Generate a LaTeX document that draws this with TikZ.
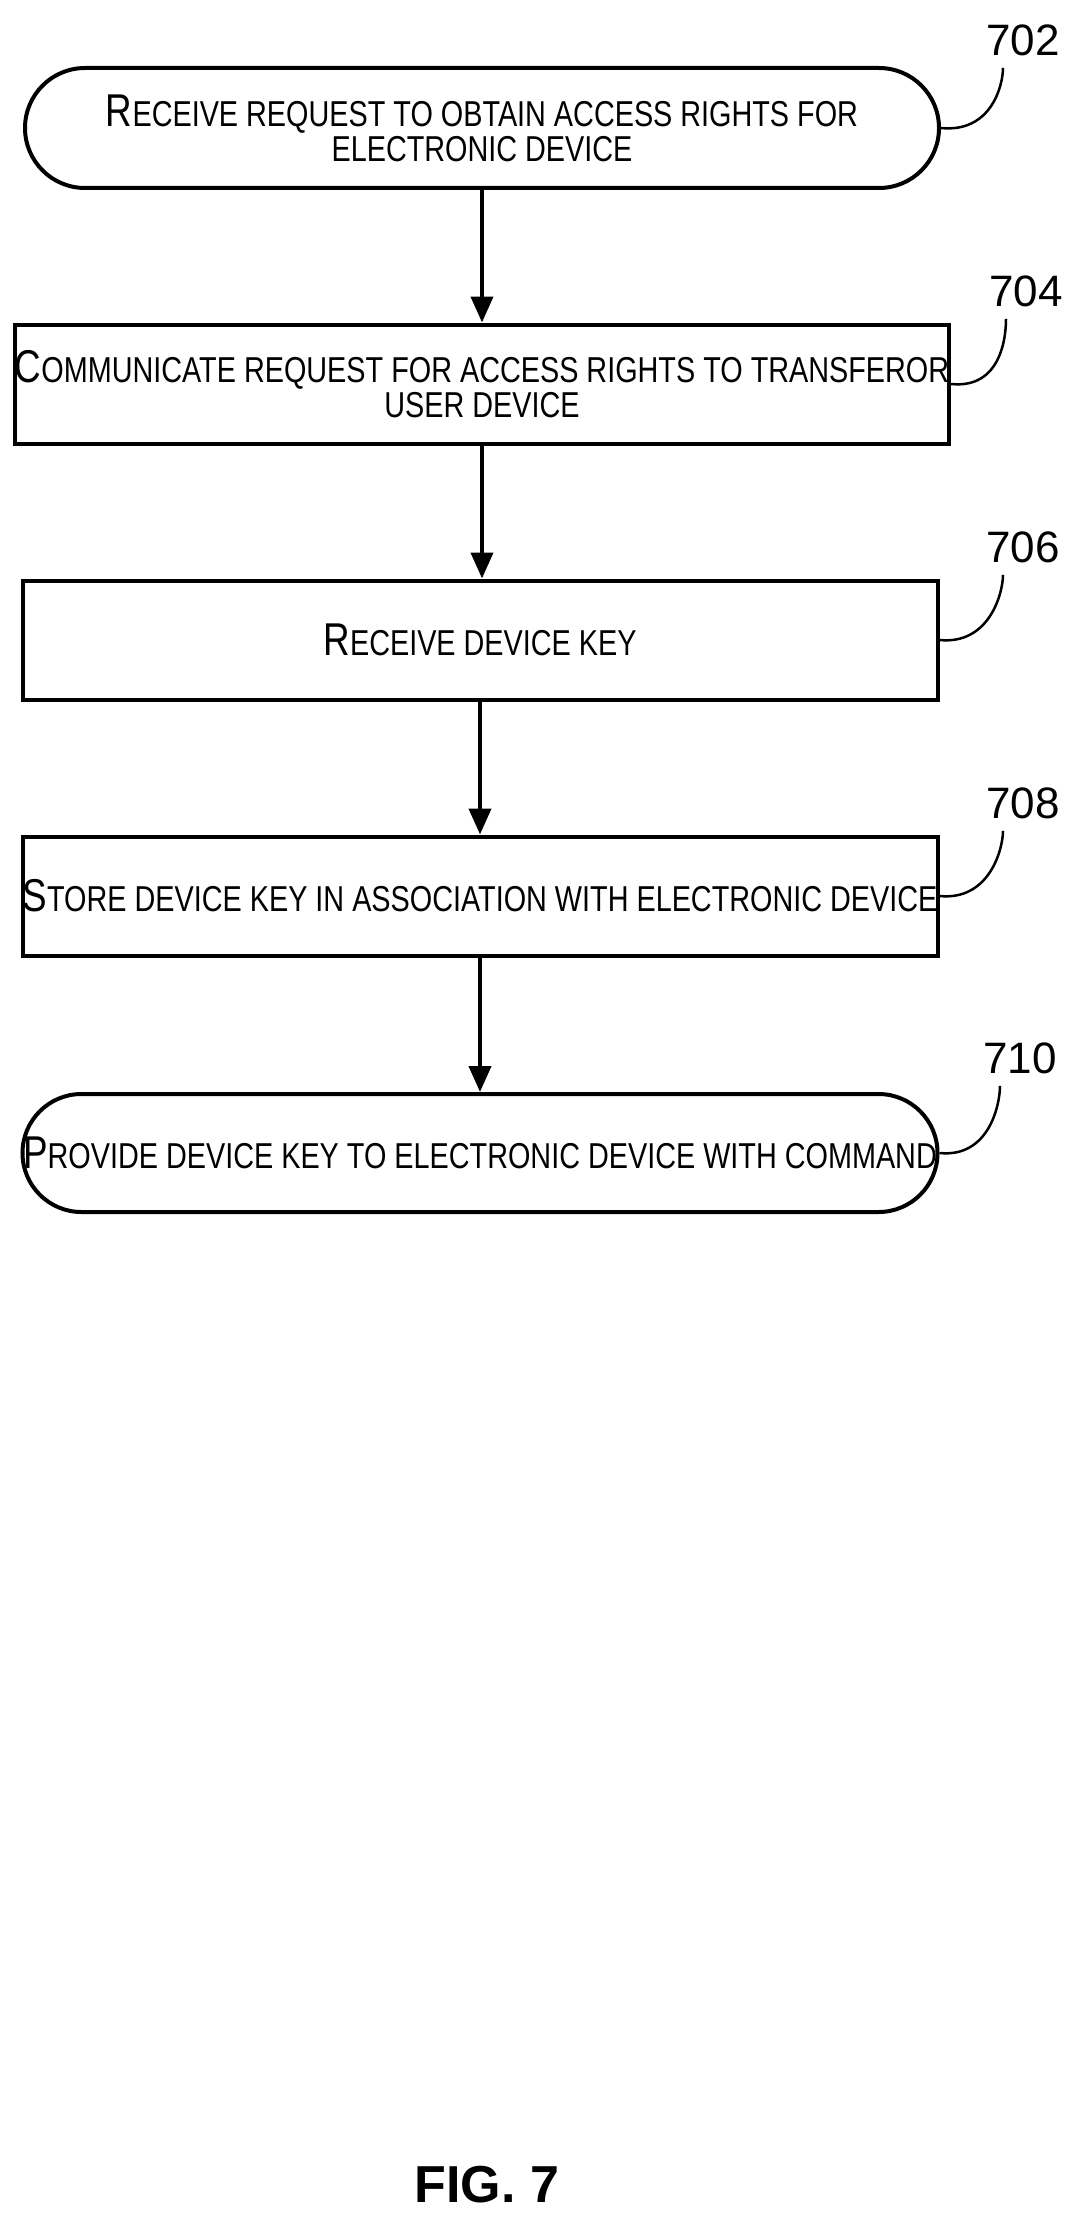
\documentclass[tikz,border=0pt]{standalone}
\usepackage{fontspec}
\setmainfont{Liberation Sans}
\newfontfamily\cond[FakeStretch=0.8]{Liberation Sans}
\usetikzlibrary{arrows.meta}
\newcommand{\Sc}[2]{{\fontsize{46}{50}\selectfont #1}{\fontsize{36}{50}\selectfont #2}}
\begin{document}
\begin{tikzpicture}[x=1pt,y=-1pt,
  box/.style={draw,line width=4pt,align=center,font=\cond,inner sep=0pt},
  lab/.style={font=\fontsize{44}{50}\selectfont,inner sep=0pt},
  arr/.style={line width=4pt,-{Triangle[length=26pt,width=22pt]}},
  call/.style={line width=2.5pt}]
\useasboundingbox (0,0) rectangle (1091,2234);
\node[box,rounded corners=60pt,minimum width=914pt,minimum height=120pt] (b1) at (482,128)
 {\Sc{R}{ECEIVE REQUEST TO OBTAIN ACCESS RIGHTS FOR}\\[2pt]\Sc{}{ELECTRONIC DEVICE}};
\node[box,minimum width=914pt,minimum height=119pt] (b2) at (482,384)
 {\Sc{C}{OMMUNICATE REQUEST FOR ACCESS RIGHTS TO TRANSFEROR}\\[2pt]\Sc{}{USER DEVICE}};
\node[box,minimum width=915pt,minimum height=119pt] (b3) at (480,640)
 {\Sc{R}{ECEIVE DEVICE KEY}};
\node[box,minimum width=915pt,minimum height=119pt] (b4) at (480,896)
 {\Sc{S}{TORE DEVICE KEY IN ASSOCIATION WITH ELECTRONIC DEVICE}};
\node[box,rounded corners=59pt,minimum width=915pt,minimum height=118pt] (b5) at (480,1153)
 {\Sc{P}{ROVIDE DEVICE KEY TO ELECTRONIC DEVICE WITH COMMAND}};
\draw[arr] (b1.south) -- (b1.south |- b2.north);
\draw[arr] (b2.south) -- (b2.south |- b3.north);
\draw[arr] (b3.south) -- (b3.south |- b4.north);
\draw[arr] (b4.south) -- (b4.south |- b5.north);
\node[lab] (l1) at (1023,40) {702};
\node[lab] (l2) at (1026,291) {704};
\node[lab] (l3) at (1023,547) {706};
\node[lab] (l4) at (1023,803) {708};
\node[lab] (l5) at (1020,1058) {710};
\foreach \b/\l in {b1/l1,b2/l2,b3/l3,b4/l4,b5/l5}
  \draw[call] (\b.east) .. controls ([xshift=50pt,yshift=-5pt]\b.east) and ([xshift=-20pt,yshift=-30pt]\l.south) .. ([xshift=-20pt,yshift=-12pt]\l.south);
\node[font=\bfseries\fontsize{52}{60}\selectfont] (fig) at (487,2185) {FIG. 7};
\end{tikzpicture}
\end{document}
